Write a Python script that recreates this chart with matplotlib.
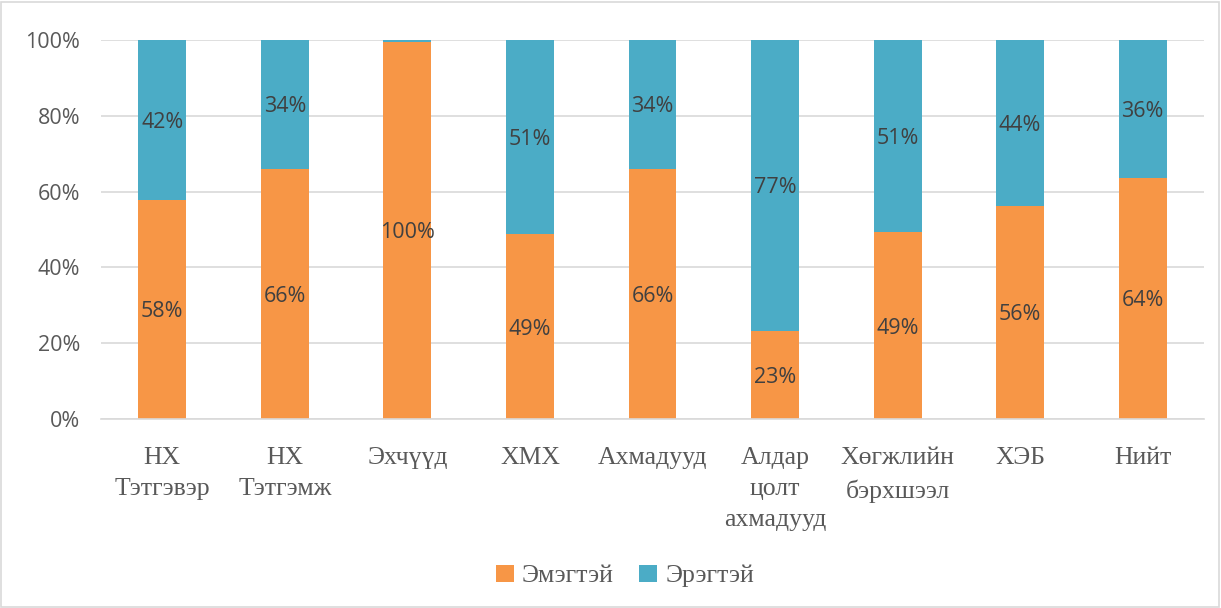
import numpy as np
import matplotlib
matplotlib.use('Agg')
from matplotlib import pyplot as plt
from matplotlib.patches import Rectangle

# data (percent)
categories = ['НХ\nТэтгэвэр', 'НХ\nТэтгэмж', 'Эхчүүд', 'ХМХ', 'Ахмадууд',
              'Алдар\nцолт\nахмадууд', 'Хөгжлийн\nбэрхшээл', 'ХЭБ', 'Нийт']
female = [57.8, 66.0, 99.6, 48.8, 66.0, 23.3, 49.3, 56.3, 63.6]
male = [42.2, 34.0, 0.4, 51.2, 34.0, 76.7, 50.7, 43.7, 36.4]
series_names = ['Эмэгтэй', 'Эрэгтэй']

orange = '#F79646'
blue = '#4BACC6'
W, H = 1221, 608

fig = plt.figure(figsize=(W / 100, H / 100), dpi=100)
ax = fig.add_axes([101 / W, 1 - 419 / H, (1204 - 101) / W, (419 - 40) / H])

x = np.arange(len(categories))
b1 = ax.bar(x, female, width=0.39, color=orange, label=series_names[0], zorder=2)
b2 = ax.bar(x, male, width=0.39, bottom=female, color=blue, label=series_names[1], zorder=2)

# data labels
for i in range(len(x)):
    for val, base in ((female[i], 0), (male[i], female[i])):
        if round(val) > 0:
            ax.text(x[i], base + val / 2, '%d%%' % round(val), ha='center', va='center_baseline',
                    fontsize=15.5, color='#404040', family='Open Sans', zorder=3)

ax.set_xlim(-0.5, len(categories) - 0.5)
ax.set_ylim(0, 100)
ax.set_yticks(range(0, 101, 20))
ax.set_yticklabels(['%d%%' % v for v in range(0, 101, 20)], family='Open Sans',
                   fontsize=15.5, color='#595959')
ax.set_xticks(x)
ax.set_xticklabels(categories, family='Liberation Serif', fontsize=18.5, color='#595959',
                   linespacing=1.52, va='top')
ax.tick_params(axis='both', length=0)
ax.tick_params(axis='y', pad=15)
ax.tick_params(axis='x', pad=20.5)
ax.yaxis.grid(True, color='#D9D9D9', linewidth=1.2, zorder=0)
ax.set_axisbelow(True)
for s in ['left', 'right', 'top']:
    ax.spines[s].set_visible(False)
ax.spines['bottom'].set_color('#D9D9D9')
ax.spines['bottom'].set_linewidth(1.2)

leg = fig.legend(handles=[b1, b2], loc='center', bbox_to_anchor=(625 / W, 1 - 576 / H),
                 ncol=2, frameon=False, handlelength=0.7, handleheight=0.7,
                 handletextpad=0.3, columnspacing=1.0,
                 prop={'family': 'Liberation Serif', 'size': 18.5})
for t in leg.get_texts():
    t.set_color('#595959')

# outer chart border
fig.patches.append(Rectangle((1 / W, 1 / H), 1 - 3 / W, 1 - 3 / H, transform=fig.transFigure,
                             fill=False, edgecolor='#D9D9D9', linewidth=1.2))

fig.savefig('out.png', dpi=100)
